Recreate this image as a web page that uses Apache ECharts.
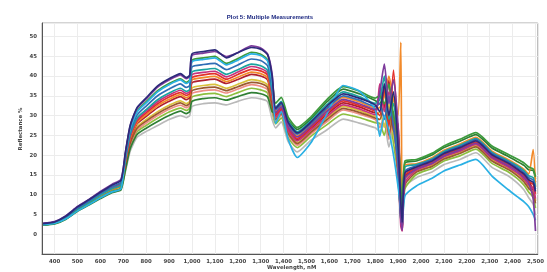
<!DOCTYPE html>
<html lang="en">

<head>
    <meta charset="UTF-8">
    <title>Plot 5: Multiple Measurements</title>
    <style>
        body {
            margin: 0;
            background: #fff;
        }

        #chart {
            width: 547px;
            height: 272px;
        }
    </style>
</head>

<body>
    <div id="chart"></div>
    <script src="https://cdn.jsdelivr.net/npm/echarts@6/dist/echarts.min.js"></script>
    <script>
        // wavelengths (nm) shared by every measurement
        const wavelengths = [350, 400, 450, 500, 550, 600, 650, 690, 710, 730, 760, 800, 850, 900, 950, 975, 990, 1000,
            1050, 1100, 1150, 1200, 1260, 1300, 1330, 1350, 1365, 1390, 1420, 1460, 1520, 1590, 1660, 1730, 1800,
            1820, 1840, 1860, 1880, 1900, 1912, 1918, 1930, 1980, 2050, 2100, 2170, 2240, 2310, 2380, 2420, 2450,
            2470, 2490, 2500];

        const xTicks = [400, 500, 600, 700, 800, 900, 1000, 1100, 1200, 1300, 1400, 1500, 1600, 1700, 1800, 1900,
            2000, 2100, 2200, 2300, 2400, 2500];

        // reflectance % per measurement
        const gray = [2.4, 2.8, 4.0, 6.1, 7.8, 9.4, 11.0, 11.9,
            16.0, 21.0, 24.5, 26.0, 27.5, 29.0, 30.0, 29.5, 30.0, 32.3, 33.0, 33.2, 32.7, 33.6, 34.5, 34.2, 33.5, 29.0,
            26.9, 28.4, 23.4, 20.8, 23.8, 26.4, 29.1, 28.1, 26.9,
            26, 28, 22, 27, 17, 8, 4, 12,
            14.3, 15.8, 17.6, 18.9, 20.6, 16.9, 14.8, 13.0, 11.2, 9.3, 7.6, 4.8];
        const olive = [2.4, 2.7, 4.0, 6.0, 7.7, 9.4, 10.9, 11.7,
            16.9, 22.2, 25.9, 27.5, 29.3, 30.9, 31.9, 31.3, 31.8, 34.7, 35.4, 35.6, 34.8, 35.8, 36.9, 36.5, 35.7, 31.0,
            27.9, 29.4, 24.4, 21.9, 24.8, 27.7, 30.4, 29.5, 28.2,
            28, 25, 31, 23, 15, 4, 2, 11.5,
            15.1, 16.7, 18.5, 19.8, 21.5, 17.9, 15.8, 14.1, 12.4, 10.7, 9.3, 6.6];
        const salmon = [2.4, 2.8, 4.1, 6.2, 7.8, 9.5, 11.1, 12.0,
            17.2, 22.6, 26.4, 28.1, 30.0, 31.6, 32.6, 32.0, 32.5, 35.6, 36.3, 36.5, 35.7, 36.7, 37.8, 37.4, 36.5, 31.7,
            28.6, 30.1, 25.1, 22.5, 25.4, 28.5, 31.4, 30.4, 29.0,
            27, 30, 24, 29, 21, 11, 6, 13.5,
            16.0, 17.6, 19.4, 20.8, 22.4, 19.0, 16.8, 15.2, 14.3, 12.2, 11.8, 8.5];
        const yellow = [2.5, 2.8, 4.1, 6.2, 7.9, 9.6, 11.2, 12.1,
            17.8, 23.3, 27.1, 29.0, 31.0, 32.6, 33.7, 33.0, 33.6, 37.0, 37.6, 37.9, 36.9, 37.9, 39.1, 38.7, 37.7, 32.9,
            29.3, 30.8, 25.8, 23.2, 26.1, 29.4, 32.3, 31.3, 29.8,
            31, 27, 33, 25, 19, 9, 5, 14,
            15.9, 17.5, 19.3, 20.7, 22.4, 18.8, 16.7, 15.2, 13.6, 12.0, 11.0, 8.4];
        const brown = [2.5, 2.8, 4.2, 6.3, 8.0, 9.7, 11.3, 12.3,
            17.5, 23.0, 26.8, 28.6, 30.5, 32.1, 33.2, 32.5, 33.1, 36.3, 37.0, 37.2, 36.3, 37.3, 38.4, 38.1, 37.1, 32.3,
            29.0, 30.5, 25.5, 22.9, 25.8, 29.0, 31.8, 30.8, 29.4,
            29, 33, 25, 31, 14, 5, 3.5, 12.5,
            15.7, 17.2, 19.0, 20.4, 22.1, 18.5, 16.4, 14.8, 13.2, 11.6, 10.4, 7.8];
        const darkGreen = [2.3, 2.6, 3.8, 5.8, 7.4, 9.0, 10.5, 11.2,
            16.5, 21.6, 25.2, 26.8, 28.5, 30.0, 31.1, 30.5, 31.0, 33.6, 34.3, 34.5, 33.9, 34.8, 35.8, 35.5, 34.7, 31.0,
            30.5, 33.0, 28.8, 26.5, 29.2, 33.5, 36.7, 35.5, 33.8,
            33, 36, 28, 35, 25, 13, 7, 18,
            18.5, 20.1, 21.9, 23.5, 25.2, 21.8, 19.7, 18.4, 17.4, 16.3, 16.1, 14.0];
        const darkRed = [2.6, 2.9, 4.3, 6.5, 8.2, 10.0, 11.7, 12.7,
            18.2, 23.9, 27.9, 29.8, 32.0, 33.6, 34.8, 34.0, 34.6, 38.3, 38.9, 39.2, 38.1, 39.1, 40.4, 40.0, 39.0, 34.0,
            30.0, 31.5, 26.5, 23.9, 26.8, 30.3, 33.2, 32.2, 30.7,
            36, 32, 39, 26, 28, 6, 1, 14.5,
            16.6, 18.1, 19.9, 21.4, 23.1, 19.6, 17.3, 16.4, 13.9, 13.6, 11.2, 13.5];
        const orange = [2.5, 2.9, 4.2, 6.3, 8.0, 9.8, 11.4, 12.4,
            18.5, 24.2, 28.2, 30.2, 32.5, 34.1, 35.3, 34.5, 35.1, 39.0, 39.6, 39.9, 38.6, 39.7, 41.0, 40.6, 39.5, 34.5,
            31.0, 32.5, 27.5, 24.9, 27.7, 31.5, 34.6, 33.5, 31.9,
            32, 35, 40, 34, 30, 48.5, 1.5, 17.5,
            17.8, 19.4, 21.2, 22.8, 24.5, 21.0, 18.9, 17.6, 16.4, 15.2, 21.4, 12.0];
        const red = [2.6, 3.0, 4.3, 6.5, 8.2, 10.1, 11.8, 12.8,
            18.8, 24.6, 28.6, 30.7, 33.0, 34.7, 35.8, 35.1, 35.6, 39.6, 40.3, 40.6, 39.2, 40.4, 41.7, 41.3, 40.2, 35.0,
            30.3, 31.8, 26.8, 24.2, 27.1, 30.7, 33.7, 32.6, 31.1,
            30, 37, 27, 41.5, 24, 7, 2.5, 15,
            16.7, 18.3, 20.1, 21.6, 23.3, 19.8, 17.7, 16.2, 14.8, 13.4, 12.6, 10.2];
        const magenta = [2.6, 3.0, 4.4, 6.6, 8.3, 10.2, 11.9, 12.9,
            19.0, 24.9, 29.0, 31.1, 33.5, 35.2, 36.4, 35.6, 36.1, 40.3, 40.9, 41.2, 39.8, 41.0, 42.4, 41.9, 40.8, 35.6,
            29.6, 31.2, 26.2, 23.6, 26.4, 29.8, 32.7, 31.7, 30.2,
            38, 31, 36, 28, 16, 2, 0.8, 13,
            16.2, 17.8, 19.6, 21.0, 22.7, 19.2, 17.0, 15.5, 14.0, 12.5, 11.5, 9.0];
        const teal = [2.5, 2.9, 4.2, 6.4, 8.1, 9.9, 11.5, 12.5,
            19.2, 25.2, 29.4, 31.5, 34.0, 35.7, 36.9, 36.1, 36.6, 41.0, 41.6, 41.9, 40.4, 41.6, 43.0, 42.6, 41.4, 36.2,
            32.1, 33.6, 28.6, 25.9, 28.7, 32.8, 36.0, 34.8, 33.1,
            34, 40, 29, 33, 20, 10, 4, 17,
            17.6, 19.1, 20.9, 22.5, 24.2, 20.7, 18.6, 17.3, 16.0, 14.8, 14.3, 12.0];
        const blue = [2.6, 3.0, 4.4, 6.6, 8.4, 10.3, 12.0, 13.1,
            19.8, 25.9, 30.1, 32.4, 35.0, 36.7, 38.0, 37.1, 37.6, 42.3, 42.9, 43.2, 41.6, 42.8, 44.3, 43.9, 42.6, 37.2,
            31.4, 32.9, 27.9, 25.3, 28.0, 31.9, 35.0, 33.9, 32.3,
            33, 29, 35, 27, 18, 3, 6, 16,
            17.3, 18.9, 20.6, 22.2, 23.9, 20.4, 18.3, 16.9, 15.6, 14.3, 13.7, 11.4];
        const green = [2.4, 2.7, 3.9, 6.0, 7.6, 9.3, 10.8, 11.6,
            20.4, 26.7, 31.1, 33.5, 36.3, 38.1, 39.3, 38.4, 39.0, 44.0, 44.6, 45.0, 43.2, 44.4, 46.0, 45.5, 44.1, 38.7,
            33.1, 34.6, 29.6, 27.0, 29.7, 34.1, 37.3, 36.2, 34.4,
            35, 33, 38, 30, 24, 12, 5, 18.5,
            18.9, 20.5, 22.3, 24.0, 25.7, 22.3, 20.2, 19.0, 18.0, 17.0, 16.5, 14.5];
        const cyan = [2.4, 2.7, 3.9, 5.9, 7.5, 9.2, 10.7, 11.5,
            20.3, 26.5, 30.9, 33.2, 36.0, 37.8, 39.0, 38.1, 38.7, 43.6, 44.2, 44.6, 42.8, 44.0, 45.6, 45.2, 43.8, 38.3,
            28, 31, 24, 19.4, 23.2, 30.5, 37.6, 36.2, 31.5,
            24.8, 30, 26, 20, 12, 6, 2, 9.7,
            12.2, 14.2, 16.0, 17.5, 18.9, 14.7, 11.3, 9.5, 8.2, 7.0, 5.0, 3.5];
        const purple = [2.8, 3.2, 4.7, 7.0, 8.8, 10.8, 12.6, 13.9,
            20.8, 27.3, 31.8, 34.2, 37.2, 39.0, 40.3, 39.3, 39.9, 45.2, 45.8, 46.2, 44.9, 45.9, 47.6, 47.1, 45.6, 40.5,
            30.7, 32.2, 27.2, 24.6, 27.4, 31.1, 34.1, 33.0, 31.5,
            36, 43, 33, 39, 27, 4, 1, 14,
            16.5, 18.0, 19.8, 21.3, 23.0, 19.5, 17.4, 15.9, 14.4, 13.0, 9.0, 0.8];
        const navy = [2.7, 3.1, 4.6, 6.9, 8.7, 10.6, 12.4, 13.6,
            21.0, 27.5, 32.0, 34.5, 37.5, 39.3, 40.6, 39.6, 40.2, 45.6, 46.2, 46.6, 44.6, 45.9, 47.2, 46.8, 45.4, 40.0,
            31.8, 33.3, 28.3, 25.6, 28.4, 32.4, 35.5, 34.4, 32.7,
            31, 38, 30, 36, 22, 8, 3, 15.5,
            17.0, 18.6, 20.4, 21.9, 23.6, 20.1, 18.0, 16.5, 15.2, 13.8, 13.1, 10.8];

        const measurements = [gray, olive, salmon, yellow, brown, darkGreen, darkRed, orange, red, magenta, teal,
            blue, green, cyan, purple, navy];
        const colors = ['#b9b9b9', '#8dbf3e', '#ef8f86', '#d9c23c', '#9a5a30', '#2f7f34', '#b01f2e', '#f28a2a',
            '#e3302a', '#c6327c', '#1aa3a0', '#2f6db5', '#3c9a3c', '#2ab0e4', '#7e3c9c', '#2c2a7a'];

        const chart = echarts.init(document.getElementById('chart'));

        const labelFont = {
            fontFamily: 'DejaVu Sans',
            fontSize: 5.4,
            fontWeight: 'bold',
            color: '#444'
        };

        const option = {
            animation: false,
            backgroundColor: '#fff',
            title: {
                text: 'Plot 5: Multiple Measurements',
                left: 265,
                top: 9,
                textAlign: 'center',
                textStyle: {
                    fontFamily: 'Liberation Sans',
                    fontSize: 6,
                    fontWeight: 'bold',
                    color: '#1f2b82'
                }
            },
            grid: {
                left: 42,
                right: 5,
                top: 23,
                bottom: 18,
                show: true,
                borderColor: '#a9a9a9',
                borderWidth: 1
            },
            xAxis: {
                type: 'value',
                min: 345,
                max: 2510,
                axisLine: { show: true, onZero: false, lineStyle: { color: '#555', width: 1 } },
                axisTick: { show: false, customValues: xTicks },
                axisLabel: {
                    customValues: xTicks,
                    margin: 5,
                    ...labelFont,
                    formatter: v => v.toLocaleString('en-US')
                },
                splitLine: { show: true, lineStyle: { color: '#ececec', width: 1 } }
            },
            yAxis: {
                type: 'value',
                min: -5,
                max: 53.4,
                interval: 5,
                axisLine: { show: true, onZero: false, lineStyle: { color: '#555', width: 1 } },
                axisTick: { show: false },
                axisLabel: {
                    margin: 5,
                    ...labelFont,
                    formatter: v => (v < 0 || v % 5 !== 0) ? '' : String(v)
                },
                splitLine: { show: true, lineStyle: { color: '#ececec', width: 1 } }
            },
            graphic: [
                {
                    type: 'text',
                    left: 267,
                    top: 265,
                    style: {
                        text: 'Wavelength, nM',
                        fontFamily: 'DejaVu Sans',
                        fontSize: 5.4,
                        fontWeight: 'bold',
                        fill: '#444'
                    }
                },
                {
                    type: 'text',
                    x: 21,
                    y: 129,
                    rotation: Math.PI / 2,
                    style: {
                        text: 'Reflectance %',
                        fontFamily: 'DejaVu Sans',
                        fontSize: 5.4,
                        fontWeight: 'bold',
                        fill: '#444',
                        align: 'center',
                        verticalAlign: 'middle'
                    }
                }
            ],
            series: measurements.map((values, i) => ({
                type: 'line',
                data: values.map((v, j) => [wavelengths[j], v]),
                showSymbol: false,
                smooth: 0.2,
                lineStyle: { color: colors[i], width: 1.7 },
                itemStyle: { color: colors[i] }
            }))
        };

        chart.setOption(option);
    </script>
</body>

</html>
